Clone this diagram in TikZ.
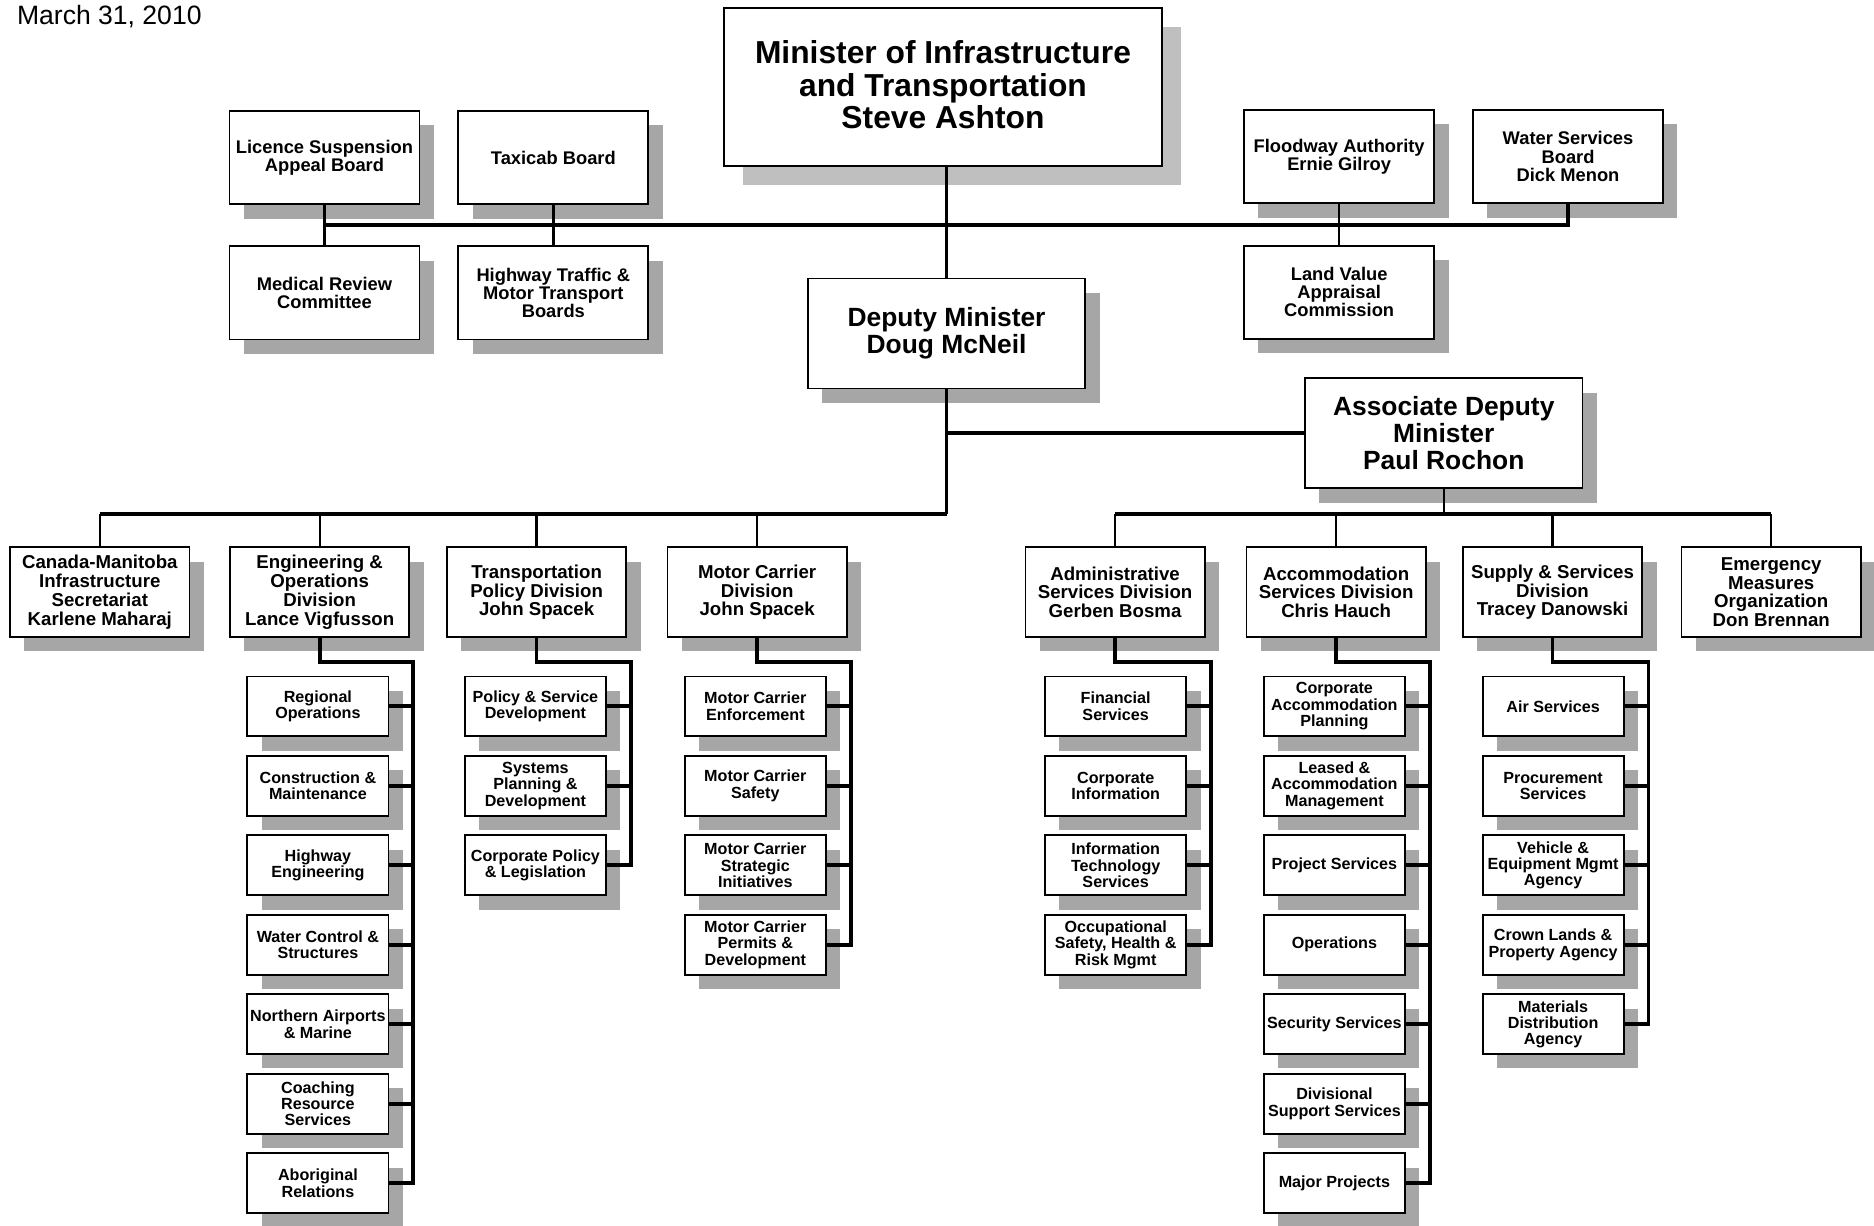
\documentclass[tikz,border=0pt]{standalone}
\usepackage{fontspec}
\setmainfont{Liberation Sans}
\usetikzlibrary{calc, shadows}

\newcommand{\datefont}{\fontsize{15.8}{18}\selectfont}
\newcommand{\ministerfont}{\fontsize{18.9}{19.2}\selectfont\bfseries}
\newcommand{\deputyfont}{\fontsize{15.7}{16.2}\selectfont\bfseries}
\newcommand{\boardfont}{\fontsize{10.9}{10.8}\selectfont\bfseries}
\newcommand{\divisionfont}{\fontsize{11.1}{11.2}\selectfont\bfseries}
\newcommand{\unitfont}{\fontsize{9.6}{9.7}\selectfont\bfseries}

\begin{document}
\begin{tikzpicture}[
        x=0.025cm, y=-0.025cm,
        orgbox/.style={draw, line width=1.1pt, fill=white, align=center, inner sep=1pt},
        shadowed/.style={drop shadow={shadow xshift=0.3cm, shadow yshift=-0.3cm, fill=black!35, opacity=1}},
        minister/.style={orgbox, minimum width=9.15cm, minimum height=3.3cm, font=\ministerfont,
            drop shadow={shadow xshift=0.4cm, shadow yshift=-0.4cm, fill=black!25, opacity=1}},
        deputy/.style={orgbox, shadowed, minimum width=5.8cm, minimum height=2.3cm, font=\deputyfont},
        board/.style={orgbox, shadowed, minimum width=3.975cm, minimum height=1.95cm, font=\boardfont},
        division/.style={orgbox, shadowed, minimum width=3.75cm, minimum height=1.875cm, font=\divisionfont},
        unit/.style={orgbox, shadowed, minimum width=2.95cm, minimum height=1.25cm, font=\unitfont},
        link/.style={line width=1.4pt},
        bus/.style={line width=2.2pt},
        ]
    \useasboundingbox (0,0) rectangle (1568,1025);

    \node (date) at (14,14) [anchor=west, inner sep=0pt, font=\datefont] {March 31, 2010};

    \node (min) at (789,73) [minister, text depth=3pt] {Minister of Infrastructure\\and Transportation\\Steve Ashton};

    \node (lic) at (271.5,132) [board] {Licence Suspension\\Appeal Board};
    \node (taxi) at (463,132) [board] {Taxicab Board};
    \node (med) at (271.5,245) [board] {Medical Review\\Committee};
    \node (hwy) at (463,245) [board] {Highway Traffic \&\\Motor Transport\\Boards};
    \node (flood) at (1120.5,131) [board] {Floodway Authority\\Ernie Gilroy};
    \node (water) at (1312,131) [board] {Water Services\\Board\\Dick Menon};
    \node (land) at (1120.5,244.5) [board] {Land Value\\Appraisal\\Commission};

    \node (dep) at (792,279) [deputy] {Deputy Minister\\Doug McNeil};
    \node (assoc) at (1208,362.5) [deputy] {Associate Deputy\\Minister\\Paul Rochon};

    \draw [link] (dep.north |- min.south) -- (dep.north);
    \draw [link] (lic.south) -- (med.north);
    \draw [link] (taxi.south) -- (hwy.north);
    \draw [link] (flood.south) -- (land.north);
    \draw [bus] ($(lic.south)!0.5!(med.north)$) -| (water.south);

    \node (cmis) at (83.5,495.5) [division] {Canada-Manitoba\\Infrastructure\\Secretariat\\Karlene Maharaj};
    \node (eng) at (267.5,495.5) [division] {Engineering \&\\Operations\\Division\\Lance Vigfusson};
    \node (tpd) at (449,495.5) [division] {Transportation\\Policy Division\\John Spacek};
    \node (mcd) at (633.5,495.5) [division] {Motor Carrier\\Division\\John Spacek};
    \node (asd) at (933,495.5) [division] {Administrative\\Services Division\\Gerben Bosma};
    \node (acc) at (1118,495.5) [division] {Accommodation\\Services Division\\Chris Hauch};
    \node (ssd) at (1299,495.5) [division] {Supply \& Services\\Division\\Tracey Danowski};
    \node (emo) at (1482,495.5) [division] {Emergency\\Measures\\Organization\\Don Brennan};

    \draw [bus] (dep.south) |- (assoc.west);
    \draw [bus] (dep.south) -- ++(0,104) coordinate (lbus);
    \draw [bus] (lbus) -- (lbus -| cmis.north);
    \draw [bus] (lbus -| asd.north) -- (lbus -| emo.north);
    \draw [link] (assoc.south) -- (assoc.south |- lbus);
    \foreach \n in {cmis, eng, tpd, mcd, asd, acc, ssd, emo}
        \draw [link] (\n.north) -- (\n.north |- lbus);

    \foreach \t [count=\i] in {{Regional\\Operations}, {Construction \&\\Maintenance},
            {Highway\\Engineering}, {Water Control \&\\Structures}, {Northern Airports\\\& Marine},
            {Coaching\\Resource\\Services}, {Aboriginal\\Relations}}
        \node (eng\i) at (266,{591+66.5*(\i-1)}) [unit] {\t};

    \foreach \t [count=\i] in {{Policy \& Service\\Development}, {Systems\\Planning \&\\Development},
            {Corporate Policy\\\& Legislation}}
        \node (tpd\i) at (448,{591+66.5*(\i-1)}) [unit] {\t};

    \foreach \t [count=\i] in {{Motor Carrier\\Enforcement}, {Motor Carrier\\Safety},
            {Motor Carrier\\Strategic\\Initiatives}, {Motor Carrier\\Permits \&\\Development}}
        \node (mcd\i) at (632,{591+66.5*(\i-1)}) [unit] {\t};

    \foreach \t [count=\i] in {{Financial\\Services}, {Corporate\\Information},
            {Information\\Technology\\Services}, {Occupational\\Safety, Health \&\\Risk Mgmt}}
        \node (asd\i) at (933.5,{591+66.5*(\i-1)}) [unit] {\t};

    \foreach \t [count=\i] in {{Corporate\\Accommodation\\Planning}, {Leased \&\\Accommodation\\Management},
            {Project Services}, {Operations}, {Security Services}, {Divisional\\Support Services},
            {Major Projects}}
        \node (acc\i) at (1116.5,{591+66.5*(\i-1)}) [unit] {\t};

    \foreach \t [count=\i] in {{Air Services}, {Procurement\\Services}, {Vehicle \&\\Equipment Mgmt\\Agency},
            {Crown Lands \&\\Property Agency}, {Materials\\Distribution\\Agency}}
        \node (ssd\i) at (1299.5,{591+66.5*(\i-1)}) [unit] {\t};

    \draw [bus] (eng.south) -- ++(0,20) -| ($(eng7.east)+(20,0)$) -- (eng7.east);
    \foreach \i in {1,...,6} \draw [bus] (eng\i.east) -- ++(20,0);

    \draw [bus] (tpd.south) -- ++(0,20) -| ($(tpd3.east)+(20,0)$) -- (tpd3.east);
    \foreach \i in {1,2} \draw [bus] (tpd\i.east) -- ++(20,0);

    \draw [bus] (mcd.south) -- ++(0,20) -| ($(mcd4.east)+(20,0)$) -- (mcd4.east);
    \foreach \i in {1,...,3} \draw [bus] (mcd\i.east) -- ++(20,0);

    \draw [bus] (asd.south) -- ++(0,20) -| ($(asd4.east)+(20,0)$) -- (asd4.east);
    \foreach \i in {1,...,3} \draw [bus] (asd\i.east) -- ++(20,0);

    \draw [bus] (acc.south) -- ++(0,20) -| ($(acc7.east)+(20,0)$) -- (acc7.east);
    \foreach \i in {1,...,6} \draw [bus] (acc\i.east) -- ++(20,0);

    \draw [bus] (ssd.south) -- ++(0,20) -| ($(ssd5.east)+(20,0)$) -- (ssd5.east);
    \foreach \i in {1,...,4} \draw [bus] (ssd\i.east) -- ++(20,0);
\end{tikzpicture}
\end{document}
